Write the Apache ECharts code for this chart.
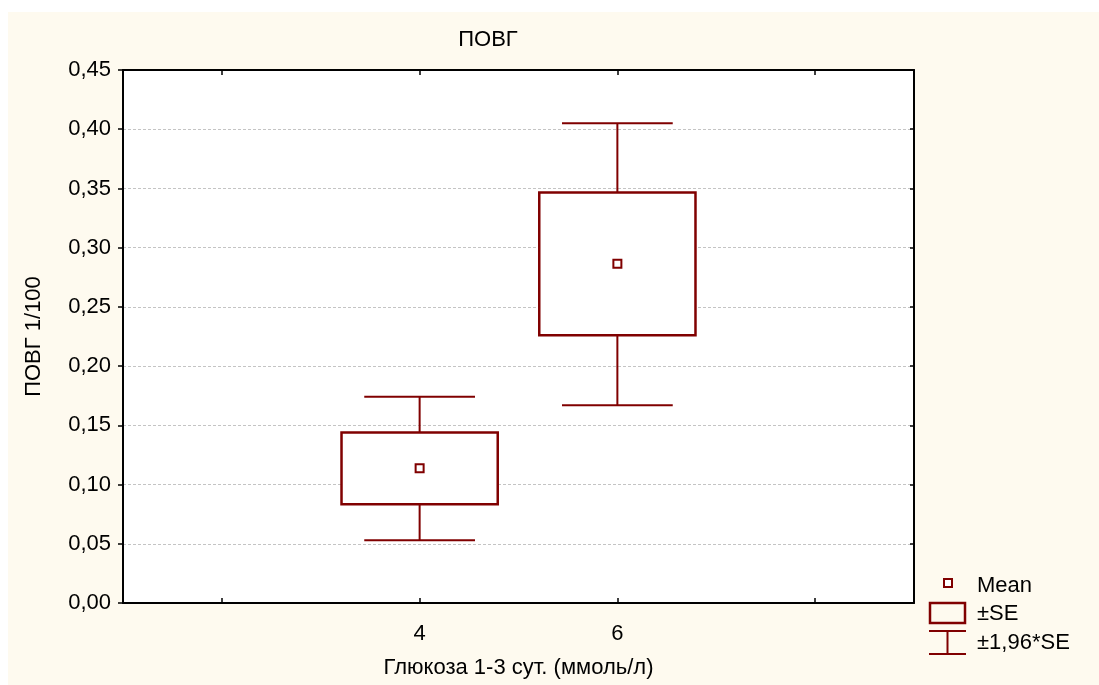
<!DOCTYPE html>
<html>
<head>
<meta charset="utf-8">
<script src="https://cdn.jsdelivr.net/npm/echarts@6/dist/echarts.min.js"></script>
<style>
  html, body { margin: 0; padding: 0; background: #ffffff; }
  #chart { width: 1099px; height: 685px; }
</style>
</head>
<body>
<div id="chart"></div>
<script>
// Glucose groups on the x axis (only the two measured groups are labelled)
const xTickLabels = ['', '4', '6', ''];
// Group means and the ±SE and ±1.96*SE bounds of ПОВГ (1/100)
const meanValues = [null, 0.1137, 0.2864, null];
const seLow      = [null, 0.0833, 0.2260, null];
const seHigh     = [null, 0.1440, 0.3466, null];
const ciLow      = [null, 0.0530, 0.1670, null];
const ciHigh     = [null, 0.1742, 0.4050, null];
// Y axis ticks
const yMin = 0, yMax = 0.45, yStep = 0.05;

const FONT = 'Liberation Sans, Arial, sans-serif';
const RED = '#800000';
const TXT = 22;

const rows = xTickLabels.map((c, i) => [i, meanValues[i], seLow[i], seHigh[i], ciLow[i], ciHigh[i]])
  .filter(r => r[1] !== null);

function renderBox(params, api) {
  const x = api.value(0);
  const band = api.size([1, 0])[0];
  const m = api.coord([x, api.value(1)]);
  const sl = api.coord([x, api.value(2)]);
  const sh = api.coord([x, api.value(3)]);
  const cl = api.coord([x, api.value(4)]);
  const ch = api.coord([x, api.value(5)]);
  const bw = band * 0.79;
  const cw = band * 0.56;
  const cx = m[0];
  const line = { stroke: RED, lineWidth: 2, fill: null };
  return {
    type: 'group',
    children: [
      { type: 'line', shape: { x1: cx, y1: sh[1], x2: cx, y2: ch[1] }, style: line },
      { type: 'line', shape: { x1: cx, y1: sl[1], x2: cx, y2: cl[1] }, style: line },
      { type: 'line', shape: { x1: cx - cw / 2, y1: ch[1], x2: cx + cw / 2, y2: ch[1] }, style: line },
      { type: 'line', shape: { x1: cx - cw / 2, y1: cl[1], x2: cx + cw / 2, y2: cl[1] }, style: line },
      { type: 'rect', shape: { x: cx - bw / 2, y: sh[1], width: bw, height: sl[1] - sh[1] },
        style: { stroke: RED, lineWidth: 2.5, fill: '#ffffff' } },
      { type: 'rect', shape: { x: cx - 4, y: m[1] - 4, width: 8, height: 8 },
        style: { stroke: RED, lineWidth: 2, fill: '#ffffff' } }
    ]
  };
}

const chart = echarts.init(document.getElementById('chart'), null, { renderer: 'canvas' });

const legendItems = [
  { type: 'rect', shape: { x: 944, y: 579, width: 8, height: 8 }, style: { stroke: RED, lineWidth: 2, fill: '#fff' } },
  { type: 'rect', shape: { x: 930, y: 603, width: 35, height: 20 }, style: { stroke: RED, lineWidth: 2.5, fill: '#fefaef' } },
  { type: 'line', shape: { x1: 929, y1: 631, x2: 966, y2: 631 }, style: { stroke: RED, lineWidth: 2 } },
  { type: 'line', shape: { x1: 929, y1: 654, x2: 966, y2: 654 }, style: { stroke: RED, lineWidth: 2 } },
  { type: 'line', shape: { x1: 947.5, y1: 631, x2: 947.5, y2: 654 }, style: { stroke: RED, lineWidth: 2 } },
  { type: 'text', x: 977, y: 586, style: { text: 'Mean', font: TXT + 'px ' + FONT, fill: '#000', verticalAlign: 'middle' } },
  { type: 'text', x: 977, y: 614, style: { text: '±SE', font: TXT + 'px ' + FONT, fill: '#000', verticalAlign: 'middle' } },
  { type: 'text', x: 977, y: 643, style: { text: '±1,96*SE', font: TXT + 'px ' + FONT, fill: '#000', verticalAlign: 'middle' } }
];

chart.setOption({
  animation: false,
  backgroundColor: '#ffffff',
  graphic: [
    { type: 'rect', z: -100, silent: true, shape: { x: 8, y: 12, width: 1091, height: 673 }, style: { fill: '#fefaef' } },
    { type: 'text', x: 488, y: 40, style: { text: 'ПОВГ', font: TXT + 'px ' + FONT, fill: '#000', align: 'center', verticalAlign: 'middle' } }
  ].concat(legendItems),
  grid: { left: 123, right: 185, top: 70, bottom: 82, show: true, backgroundColor: '#ffffff', borderWidth: 0,
          containLabel: false, outerBoundsMode: 'none' },
  xAxis: [{
    type: 'category',
    data: xTickLabels,
    boundaryGap: true,
    position: 'bottom',
    name: 'Глюкоза 1-3 сут. (ммоль/л)',
    nameLocation: 'middle',
    nameGap: 54,
    nameTextStyle: { fontFamily: FONT, fontSize: TXT, color: '#000' },
    axisLine: { show: true, onZero: false, lineStyle: { color: '#000', width: 2 } },
    axisTick: { show: true, inside: true, length: 5, alignWithLabel: true, interval: 0, lineStyle: { color: '#000', width: 1.5 } },
    axisLabel: { interval: 0, margin: 20, fontFamily: FONT, fontSize: TXT, color: '#000' },
    splitLine: { show: false }
  }, {
    type: 'category',
    data: xTickLabels,
    boundaryGap: true,
    position: 'top',
    axisLine: { show: true, onZero: false, lineStyle: { color: '#000', width: 2 } },
    axisTick: { show: true, inside: true, length: 5, alignWithLabel: true, interval: 0, lineStyle: { color: '#000', width: 1.5 } },
    axisLabel: { show: false },
    splitLine: { show: false }
  }],
  yAxis: [{
    type: 'value',
    min: yMin, max: yMax, interval: yStep,
    position: 'left',
    name: 'ПОВГ 1/100',
    nameLocation: 'middle',
    nameGap: 78,
    nameRotate: 90,
    nameTextStyle: { fontFamily: FONT, fontSize: TXT, color: '#000' },
    axisLine: { show: true, onZero: false, lineStyle: { color: '#000', width: 2 } },
    axisTick: { show: true, inside: false, length: 5, lineStyle: { color: '#000', width: 1.5 } },
    axisLabel: { margin: 12, fontFamily: FONT, fontSize: TXT, color: '#000',
      formatter: v => v.toFixed(2).replace('.', ',') },
    splitLine: { show: true, lineStyle: { color: '#c4c4c4', width: 1, type: [3, 2] } }
  }, {
    type: 'value',
    min: yMin, max: yMax, interval: yStep,
    position: 'right',
    axisLine: { show: true, onZero: false, lineStyle: { color: '#000', width: 2 } },
    axisTick: { show: true, inside: true, length: 4, lineStyle: { color: '#000', width: 1.5 } },
    axisLabel: { show: false },
    splitLine: { show: false }
  }],
  series: [{
    type: 'custom',
    xAxisIndex: 0,
    yAxisIndex: 0,
    renderItem: renderBox,
    encode: { x: 0, y: [1, 2, 3, 4, 5] },
    data: rows,
    z: 5
  }]
});
</script>
</body>
</html>
